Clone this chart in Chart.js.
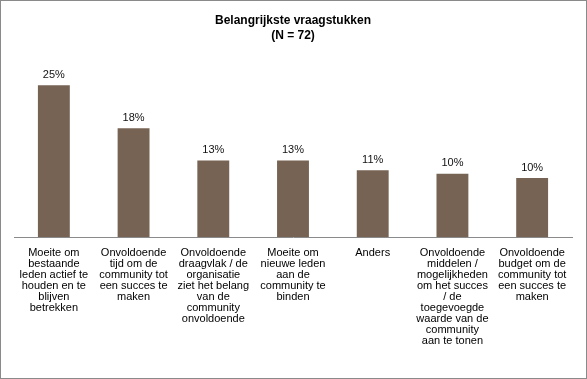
<!DOCTYPE html>
<html>
<head>
<meta charset="utf-8">
<script src="https://cdn.jsdelivr.net/npm/chart.js@4/dist/chart.umd.min.js"></script>
<style>
  html, body { margin: 0; padding: 0; background: #fff; }
  #wrap { position: absolute; left: 0; top: 0; width: 587px; height: 379px; }
</style>
</head>
<body>
<div id="wrap"><canvas id="c" width="587" height="379"></canvas></div>
<script>
const titleLines = ['Belangrijkste vraagstukken', '(N = 72)'];
const categories = [
  ['Moeite om', 'bestaande', 'leden actief te', 'houden en te', 'blijven', 'betrekken'],
  ['Onvoldoende', 'tijd om de', 'community tot', 'een succes te', 'maken'],
  ['Onvoldoende', 'draagvlak / de', 'organisatie', 'ziet het belang', 'van de', 'community', 'onvoldoende'],
  ['Moeite om', 'nieuwe leden', 'aan de', 'community te', 'binden'],
  ['Anders'],
  ['Onvoldoende', 'middelen /', 'mogelijkheden', 'om het succes', '/ de', 'toegevoegde', 'waarde van de', 'community', 'aan te tonen'],
  ['Onvoldoende', 'budget om de', 'community tot', 'een succes te', 'maken']
];
const values = [25, 17.9, 12.6, 12.6, 11.0, 10.4, 9.7];

const FONT = "'Liberation Sans', Arial, sans-serif";

const borderPlugin = {
  id: 'frame',
  beforeDraw(chart) {
    const ctx = chart.ctx;
    ctx.save();
    ctx.fillStyle = '#ffffff';
    ctx.fillRect(0, 0, chart.width, chart.height);
    ctx.strokeStyle = '#8a8a8a';
    ctx.lineWidth = 1;
    ctx.strokeRect(0.5, 0.5, chart.width - 1, chart.height - 1);
    ctx.restore();
  }
};

const labelPlugin = {
  id: 'valueLabels',
  afterDatasetsDraw(chart) {
    const ctx = chart.ctx;
    const meta = chart.getDatasetMeta(0);
    ctx.save();
    ctx.font = '11px ' + FONT;
    ctx.fillStyle = '#111';
    ctx.textAlign = 'center';
    ctx.textBaseline = 'bottom';
    meta.data.forEach((bar, i) => {
      ctx.fillText(Math.round(values[i]) + '%', bar.x, bar.y - 5);
    });
    ctx.restore();
  }
};

new Chart(document.getElementById('c'), {
  type: 'bar',
  data: {
    labels: categories,
    datasets: [{
      data: values,
      backgroundColor: '#766353',
      borderWidth: 0,
      barPercentage: 0.8,
      categoryPercentage: 0.5
    }]
  },
  options: {
    responsive: false,
    animation: false,
    devicePixelRatio: 1,
    layout: { padding: { left: 14, right: 15, top: 0, bottom: 23 } },
    plugins: {
      legend: { display: false },
      tooltip: { enabled: false },
      title: {
        display: true,
        text: titleLines,
        color: '#000',
        font: { family: FONT, size: 12, weight: 'bold', lineHeight: '15px' },
        padding: { top: 13, bottom: 13 }
      }
    },
    scales: {
      x: {
        grid: { display: false, drawTicks: false },
        border: { display: true, color: '#8a8a8a', width: 1 },
        ticks: {
          autoSkip: false,
          maxRotation: 0,
          minRotation: 0,
          padding: 10,
          color: '#000',
          font: { family: FONT, size: 11, lineHeight: '11px' }
        }
      },
      y: {
        display: false,
        min: 0,
        max: 29.8
      }
    }
  },
  plugins: [borderPlugin, labelPlugin]
});
</script>
</body>
</html>
